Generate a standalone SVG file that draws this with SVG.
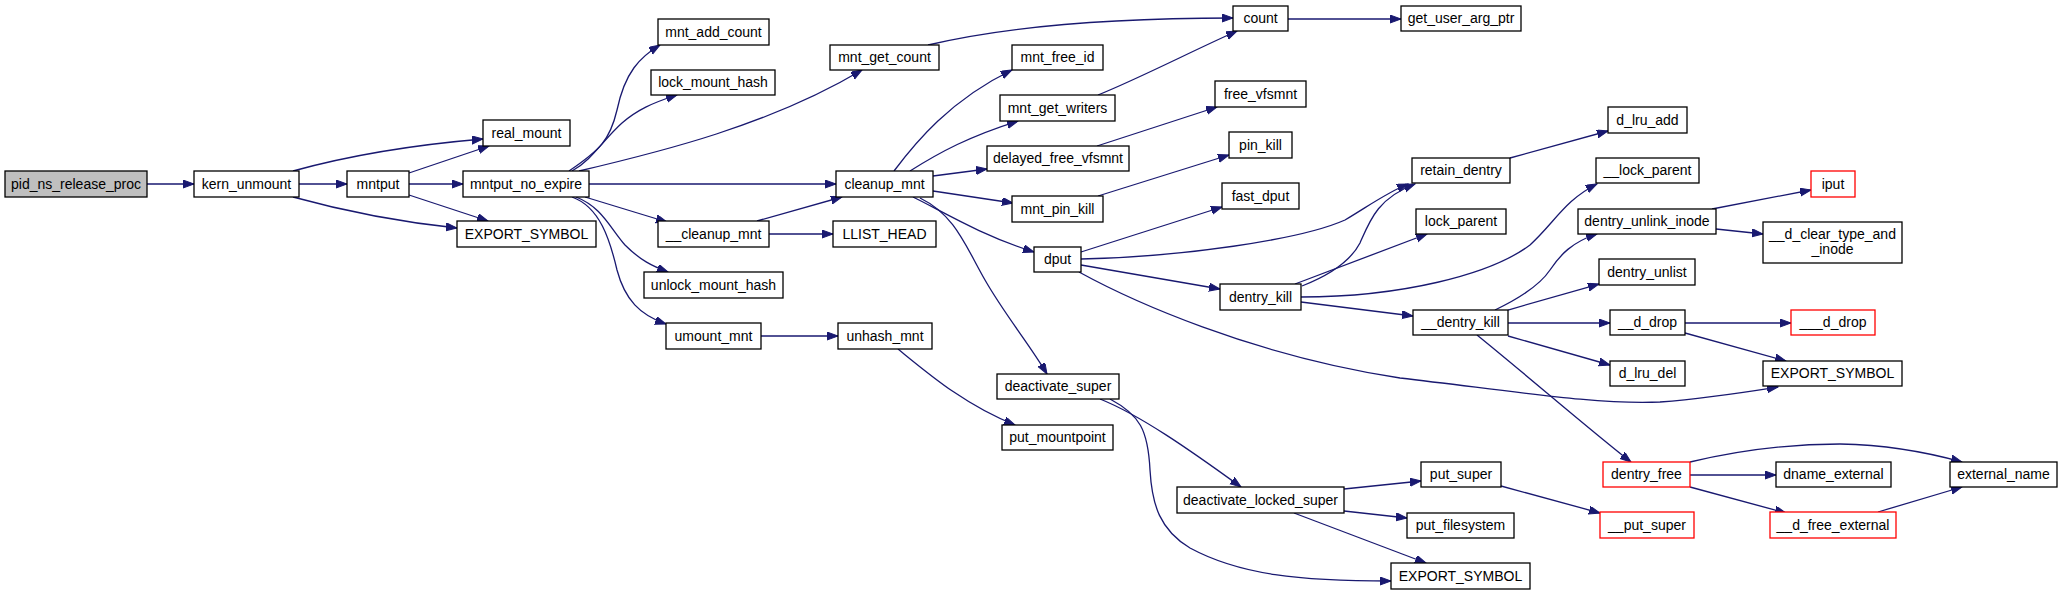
<svg xmlns="http://www.w3.org/2000/svg" width="2063" height="595" viewBox="0 0 2063 595">
<style>
.n rect{fill:#ffffff;stroke:#000000;stroke-width:1.3}
.n.root rect{fill:#bfbfbf}
.n.red rect{stroke:#ff0000}
.n text{font-family:"Liberation Sans",Arial,sans-serif;font-size:14px;text-anchor:middle;fill:#000000}
#edges path{fill:none;stroke:#191970;stroke-width:1.3;marker-end:url(#arr)}
</style>
<defs>
<marker id="arr" markerUnits="userSpaceOnUse" markerWidth="12" markerHeight="10" refX="11" refY="4" orient="auto">
<path d="M0,0 L11,4 L0,8 z" fill="#191970" stroke="#191970" stroke-width="1"/>
</marker>
</defs>
<rect width="2063" height="595" fill="#ffffff"/>
<g id="edges">
<path d="M147,184 L194,184"/>
<path d="M293,171 C340,158 400,146 483,139"/>
<path d="M299,184 L347,184"/>
<path d="M293,197 C340,210 400,222 457,228"/>
<path d="M409,173 L489,146"/>
<path d="M409,184 L463,184"/>
<path d="M409,195 L488,221"/>
<path d="M569,171 C600,150 610,140 617,110 C625,72 640,57 660,45"/>
<path d="M572,171 C592,160 603,140 622,123 C637,110 652,103 677,95"/>
<path d="M579,171 C660,152 770,125 862,70"/>
<path d="M589,184 L836,184"/>
<path d="M585,197 L667,222"/>
<path d="M576,197 C602,207 610,228 625,245 C640,260 652,266 668,272"/>
<path d="M572,197 C600,207 610,240 617,270 C625,300 640,315 666,324"/>
<path d="M757,221 L842,197"/>
<path d="M769,234 L833,234"/>
<path d="M761,336 L838,336"/>
<path d="M898,349 C930,375 965,405 1015,425"/>
<path d="M928,45 C1000,28 1100,18 1233,18"/>
<path d="M1288,19 L1401,19"/>
<path d="M894,171 C915,143 950,100 1012,70"/>
<path d="M910,171 C940,152 970,136 1018,121"/>
<path d="M933,176 L987,169"/>
<path d="M933,191 L1013,203"/>
<path d="M913,197 C940,210 980,235 1034,252"/>
<path d="M920,198 C955,215 965,245 985,280 C1005,315 1030,345 1047,374"/>
<path d="M1098,95 C1140,78 1190,52 1237,31"/>
<path d="M1097,146 L1217,107"/>
<path d="M1098,196 L1229,155"/>
<path d="M1081,252 L1222,207"/>
<path d="M1081,259 C1180,257 1300,240 1345,220 C1370,205 1388,192 1408,184"/>
<path d="M1081,265 L1220,289"/>
<path d="M1079,272 C1130,300 1250,355 1400,378 C1520,392 1600,405 1660,402 C1710,398 1740,393 1778,387"/>
<path d="M1302,286 C1330,275 1350,262 1360,243 C1370,220 1378,198 1415,184"/>
<path d="M1295,284 L1427,234"/>
<path d="M1301,297 C1400,297 1490,275 1530,245 C1555,222 1565,200 1597,184"/>
<path d="M1301,302 L1413,316"/>
<path d="M1510,158 L1608,131"/>
<path d="M1495,310 C1520,298 1540,285 1550,270 C1560,255 1572,242 1597,234"/>
<path d="M1508,310 L1599,284"/>
<path d="M1508,323 L1610,323"/>
<path d="M1508,336 L1610,365"/>
<path d="M1477,335 C1530,378 1590,430 1631,462"/>
<path d="M1712,209 L1811,190"/>
<path d="M1716,229 L1763,234"/>
<path d="M1685,323 L1791,323"/>
<path d="M1685,333 L1786,361"/>
<path d="M1690,462 C1740,450 1790,444 1840,444 C1890,445 1930,453 1962,462"/>
<path d="M1690,475 L1776,475"/>
<path d="M1690,487 L1786,513"/>
<path d="M1878,512 L1962,487"/>
<path d="M1501,486 L1600,513"/>
<path d="M1100,399 C1140,415 1190,450 1241,487"/>
<path d="M1110,399 C1140,415 1148,430 1150,470 C1152,505 1160,530 1190,548 C1240,575 1300,581 1391,581"/>
<path d="M1344,489 L1421,481"/>
<path d="M1344,511 L1407,518"/>
<path d="M1294,513 L1426,563"/>
</g>
<g id="pid_ns_release_proc" class="n root"><rect x="5" y="171" width="142" height="26"/><text x="76" y="189">pid_ns_release_proc</text></g>
<g id="kern_unmount" class="n"><rect x="194" y="171" width="105" height="26"/><text x="246.5" y="189">kern_unmount</text></g>
<g id="mntput" class="n"><rect x="347" y="171" width="62" height="26"/><text x="378" y="189">mntput</text></g>
<g id="real_mount" class="n"><rect x="483" y="120" width="87" height="26"/><text x="526.5" y="138">real_mount</text></g>
<g id="mntput_no_expire" class="n"><rect x="463" y="171" width="126" height="26"/><text x="526" y="189">mntput_no_expire</text></g>
<g id="export_symbol_1" class="n"><rect x="457" y="221" width="139" height="26"/><text x="526.5" y="239">EXPORT_SYMBOL</text></g>
<g id="mnt_add_count" class="n"><rect x="658" y="19" width="111" height="26"/><text x="713.5" y="37">mnt_add_count</text></g>
<g id="lock_mount_hash" class="n"><rect x="651" y="70" width="124" height="25"/><text x="713" y="87">lock_mount_hash</text></g>
<g id="unlock_mount_hash" class="n"><rect x="644" y="272" width="139" height="26"/><text x="713.5" y="290">unlock_mount_hash</text></g>
<g id="__cleanup_mnt" class="n"><rect x="658" y="221" width="111" height="26"/><text x="713.5" y="239">__cleanup_mnt</text></g>
<g id="umount_mnt" class="n"><rect x="666" y="323" width="95" height="26"/><text x="713.5" y="341">umount_mnt</text></g>
<g id="mnt_get_count" class="n"><rect x="830" y="45" width="109" height="25"/><text x="884.5" y="62">mnt_get_count</text></g>
<g id="cleanup_mnt" class="n"><rect x="836" y="171" width="97" height="26"/><text x="884.5" y="189">cleanup_mnt</text></g>
<g id="llist_head" class="n"><rect x="833" y="221" width="103" height="26"/><text x="884.5" y="239">LLIST_HEAD</text></g>
<g id="unhash_mnt" class="n"><rect x="838" y="323" width="94" height="26"/><text x="885" y="341">unhash_mnt</text></g>
<g id="count" class="n"><rect x="1233" y="6" width="55" height="25"/><text x="1260.5" y="23">count</text></g>
<g id="get_user_arg_ptr" class="n"><rect x="1401" y="6" width="120" height="25"/><text x="1461" y="23">get_user_arg_ptr</text></g>
<g id="mnt_free_id" class="n"><rect x="1012" y="45" width="91" height="25"/><text x="1057.5" y="62">mnt_free_id</text></g>
<g id="mnt_get_writers" class="n"><rect x="1000" y="95" width="115" height="26"/><text x="1057.5" y="113">mnt_get_writers</text></g>
<g id="delayed_free_vfsmnt" class="n"><rect x="987" y="146" width="142" height="25"/><text x="1058" y="163">delayed_free_vfsmnt</text></g>
<g id="mnt_pin_kill" class="n"><rect x="1012" y="196" width="91" height="26"/><text x="1057.5" y="214">mnt_pin_kill</text></g>
<g id="dput" class="n"><rect x="1034" y="247" width="47" height="25"/><text x="1057.5" y="264">dput</text></g>
<g id="deactivate_super" class="n"><rect x="997" y="374" width="122" height="25"/><text x="1058" y="391">deactivate_super</text></g>
<g id="put_mountpoint" class="n"><rect x="1002" y="425" width="111" height="25"/><text x="1057.5" y="442">put_mountpoint</text></g>
<g id="free_vfsmnt" class="n"><rect x="1215" y="81" width="91" height="26"/><text x="1260.5" y="99">free_vfsmnt</text></g>
<g id="pin_kill" class="n"><rect x="1229" y="132" width="63" height="26"/><text x="1260.5" y="150">pin_kill</text></g>
<g id="fast_dput" class="n"><rect x="1222" y="183" width="77" height="26"/><text x="1260.5" y="201">fast_dput</text></g>
<g id="dentry_kill" class="n"><rect x="1220" y="284" width="81" height="26"/><text x="1260.5" y="302">dentry_kill</text></g>
<g id="deactivate_locked_super" class="n"><rect x="1177" y="487" width="167" height="26"/><text x="1260.5" y="505">deactivate_locked_super</text></g>
<g id="retain_dentry" class="n"><rect x="1412" y="158" width="98" height="25"/><text x="1461" y="175">retain_dentry</text></g>
<g id="lock_parent" class="n"><rect x="1416" y="209" width="90" height="25"/><text x="1461" y="226">lock_parent</text></g>
<g id="__dentry_kill" class="n"><rect x="1413" y="310" width="95" height="25"/><text x="1460.5" y="327">__dentry_kill</text></g>
<g id="put_super" class="n"><rect x="1421" y="462" width="80" height="25"/><text x="1461" y="479">put_super</text></g>
<g id="put_filesystem" class="n"><rect x="1407" y="513" width="107" height="25"/><text x="1460.5" y="530">put_filesystem</text></g>
<g id="export_symbol_3" class="n"><rect x="1391" y="563" width="139" height="26"/><text x="1460.5" y="581">EXPORT_SYMBOL</text></g>
<g id="d_lru_add" class="n"><rect x="1608" y="107" width="79" height="26"/><text x="1647.5" y="125">d_lru_add</text></g>
<g id="__lock_parent" class="n"><rect x="1596" y="158" width="103" height="25"/><text x="1647.5" y="175">__lock_parent</text></g>
<g id="dentry_unlink_inode" class="n"><rect x="1578" y="209" width="138" height="25"/><text x="1647" y="226">dentry_unlink_inode</text></g>
<g id="dentry_unlist" class="n"><rect x="1599" y="259" width="96" height="26"/><text x="1647" y="277">dentry_unlist</text></g>
<g id="__d_drop" class="n"><rect x="1610" y="310" width="75" height="25"/><text x="1647.5" y="327">__d_drop</text></g>
<g id="d_lru_del" class="n"><rect x="1610" y="361" width="75" height="25"/><text x="1647.5" y="378">d_lru_del</text></g>
<g id="dentry_free" class="n red"><rect x="1603" y="462" width="87" height="25"/><text x="1646.5" y="479">dentry_free</text></g>
<g id="__put_super" class="n red"><rect x="1600" y="512" width="94" height="26"/><text x="1647" y="530">__put_super</text></g>
<g id="iput" class="n red"><rect x="1811" y="171" width="44" height="26"/><text x="1833" y="189">iput</text></g>
<g id="__d_clear_type_and_inode" class="n"><rect x="1763" y="222" width="139" height="41"/><text x="1832.5" y="239">__d_clear_type_and</text><text x="1832.5" y="254">_inode</text></g>
<g id="___d_drop" class="n red"><rect x="1791" y="310" width="84" height="25"/><text x="1833" y="327">___d_drop</text></g>
<g id="export_symbol_2" class="n"><rect x="1763" y="361" width="139" height="25"/><text x="1832.5" y="378">EXPORT_SYMBOL</text></g>
<g id="dname_external" class="n"><rect x="1776" y="462" width="115" height="25"/><text x="1833.5" y="479">dname_external</text></g>
<g id="__d_free_external" class="n red"><rect x="1770" y="512" width="126" height="26"/><text x="1833" y="530">__d_free_external</text></g>
<g id="external_name" class="n"><rect x="1950" y="462" width="107" height="25"/><text x="2003.5" y="479">external_name</text></g>
</svg>
